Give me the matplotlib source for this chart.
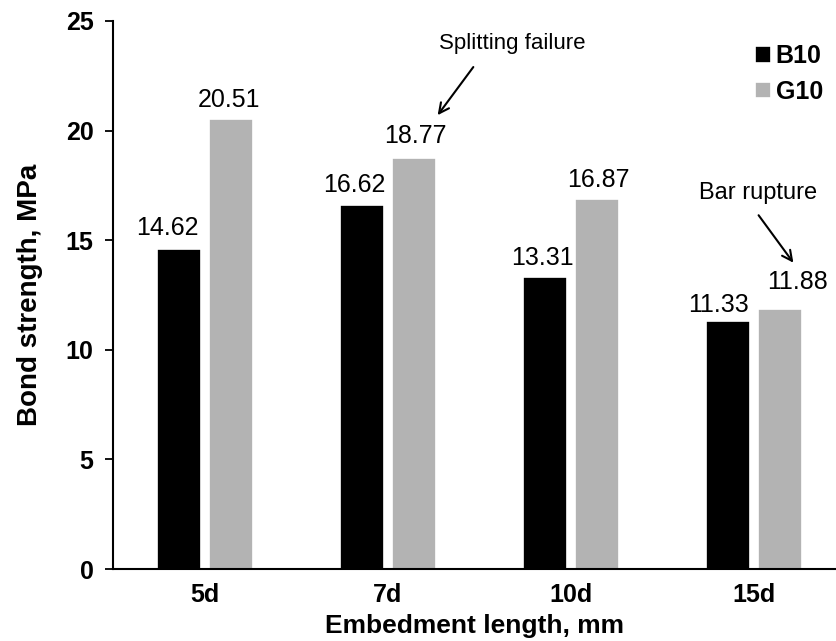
import matplotlib
matplotlib.use("Agg")
import matplotlib.pyplot as plt
import numpy as np

plt.rcParams['font.family'] = ['Liberation Sans', 'DejaVu Sans']

# ---------- data ----------
categories = ["5d", "7d", "10d", "15d"]
b10 = [14.62, 16.62, 13.31, 11.33]
g10 = [20.51, 18.77, 16.87, 11.88]
series_labels = ["B10", "G10"]
series_colors = ["#000000", "#b3b3b3"]

# value-label nudges (points) so they sit like in the original figure
b10_nudge = [(-9, 10), (-6, 9), (-2, 8.5), (-7, 6)]
g10_nudge = [(-1, 9), (1, 10.5), (1, 8.5), (13, 14)]

# ---------- figure ----------
fig = plt.figure(figsize=(8.36, 6.41), dpi=100)
ax = fig.add_axes([0.1352, 0.1123, 0.8648, 0.855])

x = np.arange(len(categories))
bar_w = 0.24
offsets = [-0.14, 0.14]

for vals, off, col, lab, nudges in zip([b10, g10], offsets, series_colors,
                                        series_labels, [b10_nudge, g10_nudge]):
    bars = ax.bar(x + off, vals, width=bar_w, color=col, edgecolor="white",
                  linewidth=1.2, label=lab)
    for bar, v, (dx, dy) in zip(bars, vals, nudges):
        ax.annotate(f"{v:.2f}",
                    xy=(bar.get_x() + bar.get_width() / 2, v),
                    xytext=(dx, dy), textcoords="offset points",
                    ha="center", va="baseline", fontsize=18)

# ---------- annotations ----------
ax.text(1.68, 23.95, "Splitting failure", ha="center", va="center", fontsize=16)
ax.annotate("", xy=(1.262, 20.6), xytext=(1.475, 23.0),
            arrowprops=dict(arrowstyle="->", lw=1.5, color="black", mutation_scale=18))
ax.text(3.02, 17.15, "Bar rupture", ha="center", va="center", fontsize=17)
ax.annotate("", xy=(3.224, 13.87), xytext=(3.016, 16.24),
            arrowprops=dict(arrowstyle="->", lw=1.5, color="black", mutation_scale=18))

# ---------- axes styling ----------
ax.set_xlim(-0.503, 3.448)
ax.set_ylim(0, 25)
ax.set_xticks(x)
ax.set_xticklabels(categories, fontsize=18, fontweight="bold")
ax.set_yticks([0, 5, 10, 15, 20, 25])
ax.set_yticklabels(["0", "5", "10", "15", "20", "25"], fontsize=18, fontweight="bold")
ax.tick_params(axis="x", length=0, pad=10)
ax.tick_params(axis="y", length=6, width=1.3, pad=8)

ax.spines["top"].set_visible(False)
ax.spines["right"].set_visible(False)
ax.spines["left"].set_linewidth(1.5)
ax.spines["bottom"].set_linewidth(1.5)

ax.set_xlabel("Embedment length, mm", fontsize=19, fontweight="bold", labelpad=5)
ax.set_ylabel("Bond strength, MPa", fontsize=20, fontweight="bold", labelpad=16)

leg = ax.legend(loc="upper right", bbox_to_anchor=(823 / 836, 1 - 44 / 641),
                bbox_transform=fig.transFigure, frameon=False,
                prop={"size": 18, "weight": "bold"},
                handlelength=0.65, handleheight=0.65, handletextpad=0.2,
                labelspacing=0.47, borderpad=0, borderaxespad=0)

fig.savefig("out.png", dpi=100)
